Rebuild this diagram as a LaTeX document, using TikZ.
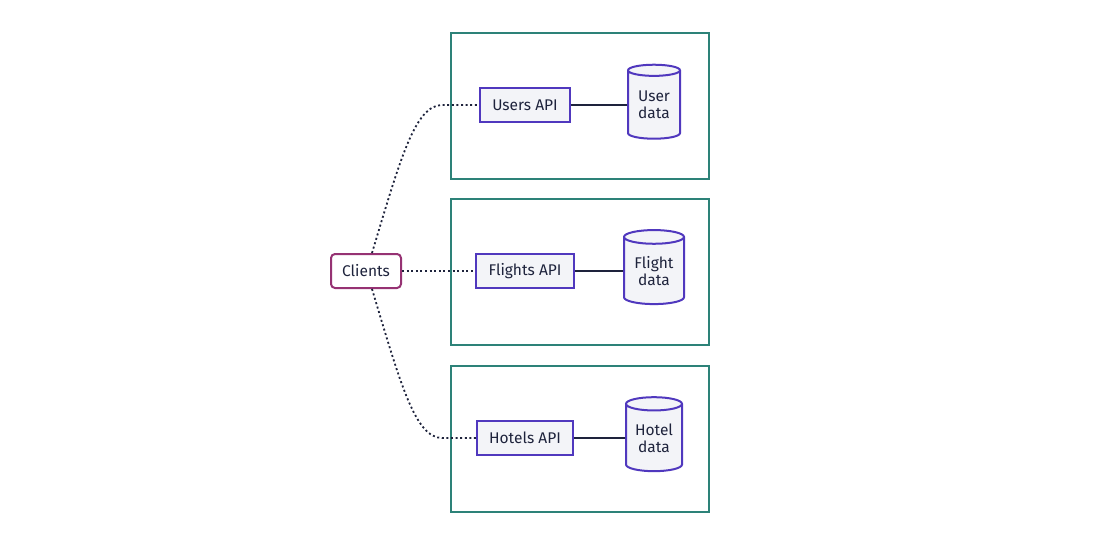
\documentclass[tikz,border=0pt]{standalone}
\usepackage{fontspec}
\setmainfont{Fira Sans}
\usetikzlibrary{shapes.geometric}
\definecolor{grp}{RGB}{45,130,120}
\definecolor{api}{RGB}{80,56,190}
\definecolor{apifill}{RGB}{243,244,248}
\definecolor{cli}{RGB}{150,50,115}
\definecolor{txt}{RGB}{30,35,60}
\begin{document}
\begin{tikzpicture}[x=1pt,y=-1pt,
  font=\fontsize{15.5}{17}\selectfont, text=txt,
  group/.style={draw=grp,line width=2pt,minimum width=258pt,minimum height=146pt},
  apibox/.style={draw=api,fill=apifill,line width=2pt,minimum height=34pt,inner sep=0pt},
  db/.style={cylinder,shape border rotate=90,aspect=0.35,draw=api,fill=apifill,line width=2pt,minimum width=52pt,minimum height=74pt,inner sep=0pt,align=center},
  clientbox/.style={draw=cli,fill=white,line width=2pt,rounded corners=4pt,minimum width=70pt,minimum height=34pt,inner sep=0pt},
  link/.style={draw=txt,line width=1.8pt,dash pattern=on 2pt off 2.6pt},
  solid link/.style={draw=txt,line width=1.8pt}]
\useasboundingbox (0,0) rectangle (1093,533);
\node[group] (g1) at (580,105.5) {};
\node[group] (g2) at (580,271.5) {};
\node[group] (g3) at (580,438.5) {};
\node[apibox,minimum width=90pt] (users) at (525,105) {Users API};
\node[apibox,minimum width=98pt] (flights) at (525,271) {Flights API};
\node[apibox,minimum width=96pt] (hotels) at (525,438) {Hotels API};
\node[db] (udata) at (654,105) {User\\data};
\node[db,minimum width=60pt] (fdata) at (654,271) {Flight\\data};
\node[db,minimum width=56pt] (hdata) at (654,438) {Hotel\\data};
\node[clientbox] (cli) at (366,271) {Clients};
\coordinate (c1) at (442,105);
\coordinate (c3) at (442,438);
\draw[link] (cli.north) ++(6,0) .. controls (400,160) and (415,105) .. (c1) -- (users.west);
\draw[link] (cli.east) -- (flights.west);
\draw[link] (cli.south) ++(6,0) .. controls (400,382) and (415,438) .. (c3) -- (hotels.west);
\draw[solid link] (users.east) -- (udata.west);
\draw[solid link] (flights.east) -- (fdata.west);
\draw[solid link] (hotels.east) -- (hdata.west);
\end{tikzpicture}
\end{document}
